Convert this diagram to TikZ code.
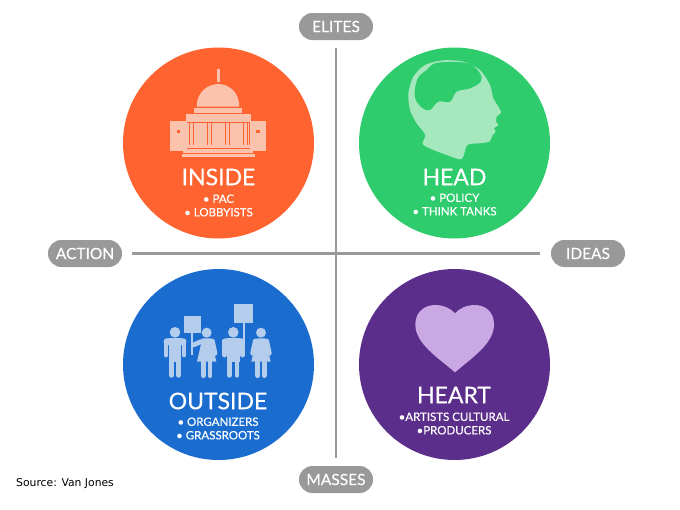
\documentclass[tikz,border=0pt]{standalone}
\usepackage{fontspec}
\setmainfont{Lato}[FakeBold=0.25]
\newfontfamily\srcfont{DejaVu Sans}
\definecolor{orangec}{HTML}{FF6430}
\definecolor{greenc}{HTML}{2ECC6C}
\definecolor{bluec}{HTML}{1A6DCF}
\definecolor{purplec}{HTML}{5C2E8C}
\definecolor{peach}{HTML}{FBC3AE}
\definecolor{mint}{HTML}{A6E8BE}
\definecolor{sky}{HTML}{B4CDEC}
\definecolor{lilac}{HTML}{C9A8E4}
\definecolor{greyc}{HTML}{999999}
\tikzset{
 disc/.style={circle,minimum size=191pt,inner sep=0pt,fill=#1},
 pill/.style={rounded corners=13.4pt,fill=greyc,text=white,minimum width=74pt,minimum height=27pt,inner sep=0pt,font=\fontsize{15.5}{16}\selectfont},
 axis/.style={draw=greyc,line width=2.4pt},
 title/.style={text=white,font=\fontsize{23}{24}\selectfont,inner sep=0pt},
 sub/.style={text=white,font=\fontsize{11.5}{13.5}\selectfont,inner sep=0pt,align=center},
}
\begin{document}
\begin{tikzpicture}[x=1pt,y=-1pt]
\useasboundingbox (0,0) rectangle (680,509);
\fill[white] (0,0) rectangle (680,509);
\node[pill] (elites) at (336,26.5) {ELITES};
\node[pill] (masses) at (336,479.5) {MASSES};
\node[pill] (action) at (85,253.5) {ACTION};
\node[pill] (ideas) at (588,253.5) {IDEAS};
\node[disc=orangec] (inside) at (218.5,143) {};
\node[disc=greenc] (head) at (454.5,143) {};
\node[disc=bluec] (outside) at (218.5,364.5) {};
\node[disc=purplec] (heart) at (454.5,364.5) {};
\draw[axis,shorten <=8pt,shorten >=8pt] (elites.south) -- (masses.north);
\draw[axis,shorten <=10pt,shorten >=11pt] (action.east) -- (ideas.west);
% capitol
\begin{scope}[shift={(150,60)},x=.3333pt,y=-.3333pt]
\fill[peach] (201,28) rectangle (209,65);
\fill[peach] (140,140) .. controls (140,95) and (175,72) .. (205,72) .. controls (235,72) and (268,95) .. (268,140) -- cycle;
\fill[peach] (133,143) rectangle (277,158);
\fill[peach] (107,163) rectangle (302,185);
\fill[peach] (60,182) rectangle (112,273);
\fill[peach] (300,182) rectangle (348,273);
\fill[peach] (112,188) rectangle (296,256);
\foreach \x in {124,178,232,286}{\fill[orangec] (\x-8,190) rectangle (\x-4,254);\fill[orangec] (\x+4,190) rectangle (\x+8,254);}
\fill[orangec] (80,210) rectangle (90,220);
\fill[orangec] (319,210) rectangle (329,220);
\fill[peach] (105,256) rectangle (303,265);
\fill[peach] (100,268) rectangle (308,280);
\fill[peach] (95,283) rectangle (315,292);
\end{scope}
% head
\begin{scope}[shift={(390,60)},x=.3333pt,y=-.3333pt]
\fill[mint] plot[smooth cycle,tension=.45] coordinates {(100,255)(106,225)(80,190)(60,150)(55,100)(70,50)(105,15)(160,1)(220,5)(270,30)(300,75)(310,115)(333,155)(320,170)(318,185)(325,195)(312,205)(317,215)(308,225)(298,245)(270,250)(232,255)(215,297)(170,285)};
\fill[greenc] plot[smooth cycle,tension=.6] coordinates {(75,85)(85,52)(110,30)(135,10)(190,6)(240,12)(270,40)(272,65)(240,85)(200,95)(180,125)(145,125)(120,150)(98,145)(80,125)(74,105)};
\end{scope}
% people
\begin{scope}[shift={(150,295)},x=.3333pt,y=-.3333pt]
\tikzset{limb/.style={draw=sky,line width=4.8pt,line cap=round,line join=round}}
\foreach \dx in {0,175}{
 \fill[sky] (75+\dx,112) circle[radius=16];
 \fill[sky,rounded corners=3pt] (41+\dx,130) rectangle (109+\dx,150);
 \fill[sky] (56+\dx,130) rectangle (94+\dx,200);
 \draw[limb] (48+\dx,140) -- (48+\dx,180);
 \draw[limb] (102+\dx,140) -- (102+\dx,180);
 \draw[limb] (64+\dx,195) -- (64+\dx,241);
 \draw[limb] (86+\dx,195) -- (86+\dx,241);
}
\fill[sky] (102,62) rectangle (153,113);
\fill[sky] (122,113) rectangle (128,180);
\fill[sky] (253,28) rectangle (308,85);
\fill[sky] (279,85) rectangle (285,165);
\foreach \dx in {170,333}{
 \fill[sky] (\dx,113) circle[radius=15];
 \fill[sky] (\dx-13,130) -- (\dx+13,130) -- (\dx+29,200) -- (\dx-29,200) -- cycle;
 \draw[limb] (\dx-10,198) -- (\dx-10,242);
 \draw[limb] (\dx+10,198) -- (\dx+10,242);
 \draw[limb] (\dx+17,138) -- (\dx+25,175);
}
\draw[limb] (153,140) -- (130,150);
\draw[limb] (316,138) -- (308,175);
\end{scope}
% heart
\begin{scope}[shift={(390,295)},x=.3333pt,y=-.3333pt]
\fill[lilac] (195,232) .. controls (140,185) and (76,145) .. (76,88) .. controls (76,50) and (105,30) .. (135,30) .. controls (160,30) and (182,40) .. (195,55) .. controls (208,40) and (230,30) .. (255,30) .. controls (285,30) and (312,50) .. (312,88) .. controls (312,145) and (250,185) .. (195,232) -- cycle;
\end{scope}
% text
\node[title] (t1) at (218.5,177) {INSIDE};
\node[sub] (s1) at (218.5,205.5) {• PAC\\• LOBBYISTS};
\node[title] (t2) at (454.5,177) {HEAD};
\node[sub] (s2) at (454.5,204.5) {• POLICY\\• THINK TANKS};
\node[title] (t3) at (218,401) {OUTSIDE};
\node[sub] (s3) at (218,428.5) {• ORGANIZERS\\• GRASSROOTS};
\node[title] (t4) at (454,395) {HEART};
\node[sub] (s4) at (454,423.5) {•ARTISTS CULTURAL\\•PRODUCERS};
\node[anchor=west,inner sep=0pt,font=\srcfont\fontsize{10.8}{13}\selectfont] (src) at (16,484) {Source: Van Jones};
\end{tikzpicture}
\end{document}
